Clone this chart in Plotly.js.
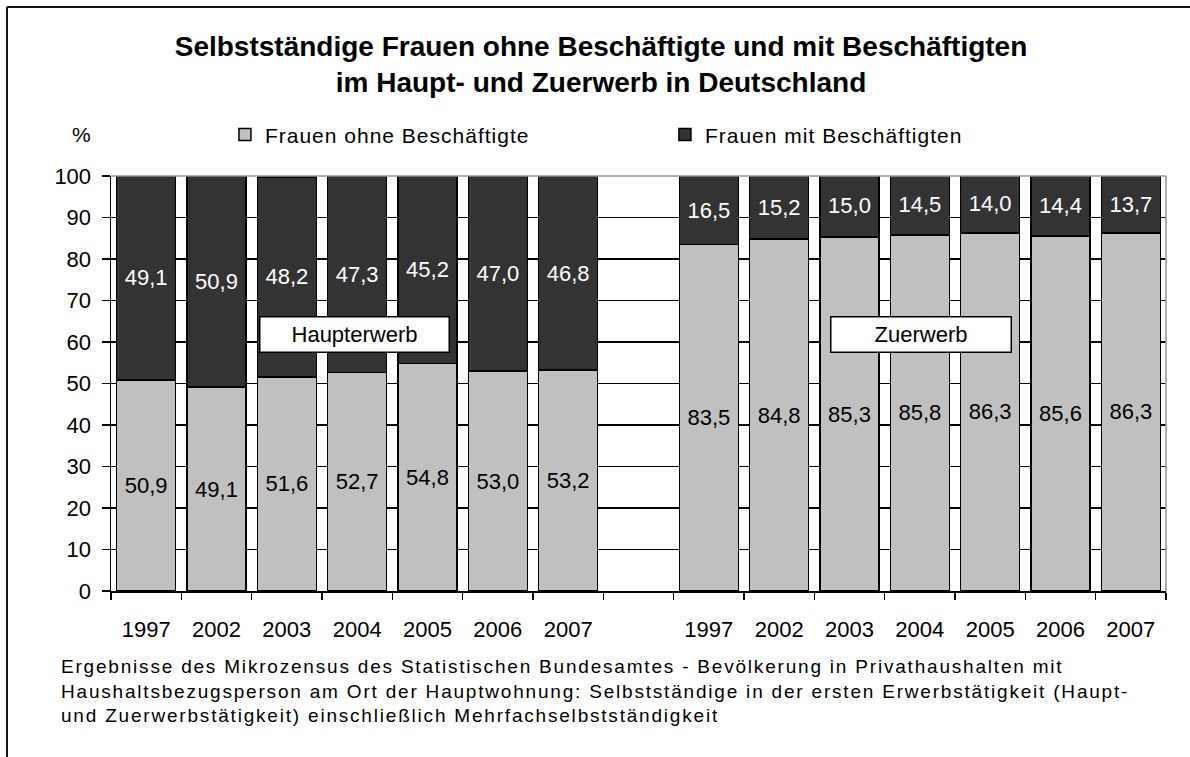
<!DOCTYPE html>
<html>
<head>
<meta charset="utf-8">
<script src="https://cdn.plot.ly/plotly-3.0.1.min.js"></script>
<style>
  html, body { margin: 0; padding: 0; background: #fff; }
  #chart { width: 1190px; height: 757px; }
</style>
</head>
<body>
<div id="chart"></div>
<script>
// ---- data ----
var yearsHaupt = ['1997', '2002', '2003', '2004', '2005', '2006', '2007'];
var yearsZu    = ['1997', '2002', '2003', '2004', '2005', '2006', '2007'];
var hauptOhne = [50.9, 49.1, 51.6, 52.7, 54.8, 53.0, 53.2];
var hauptMit  = [49.1, 50.9, 48.2, 47.3, 45.2, 47.0, 46.8];
var zuOhne    = [83.5, 84.8, 85.3, 85.8, 86.3, 85.6, 86.3];
var zuMit     = [16.5, 15.2, 15.0, 14.5, 14.0, 14.4, 13.7];
var seriesNames = ['Frauen ohne Beschäftigte', 'Frauen mit Beschäftigten'];
var groupLabels = ['Haupterwerb', 'Zuerwerb'];
var footnoteLines = [
  'Ergebnisse des Mikrozensus des Statistischen Bundesamtes - Bevölkerung in Privathaushalten mit',
  'Haushaltsbezugsperson am Ort der Hauptwohnung: Selbstständige in der ersten Erwerbstätigkeit (Haupt-',
  'und Zuerwerbstätigkeit) einschließlich Mehrfachselbstständigkeit'
];

// category slots: group 1, one empty slot, group 2
var posHaupt = yearsHaupt.map(function (_, i) { return i; });
var posZu = yearsZu.map(function (_, i) { return i + yearsHaupt.length + 1; });
var allPos = posHaupt.concat(posZu);
var allLabels = yearsHaupt.concat(yearsZu);
var nSlots = yearsHaupt.length + 1 + yearsZu.length;

var FONT = 'Liberation Sans, Arial, Helvetica, sans-serif';
function spaced(t, px) { return '<span style="letter-spacing:' + px + 'px">' + t + '</span>'; }

var traces = [
  {
    type: 'bar', name: spaced(seriesNames[0], 1),
    x: allPos, y: hauptOhne.concat(zuOhne),
    marker: { color: '#C0C0C0', line: { color: '#000', width: 1.5 } },
    texttemplate: '%{y:.1f}', textposition: 'inside', insidetextanchor: 'middle',
    constraintext: 'none',
    insidetextfont: { family: FONT, size: 22, color: '#000' },
    hoverinfo: 'skip'
  },
  {
    type: 'bar', name: spaced(seriesNames[1], 1),
    x: allPos, y: hauptMit.concat(zuMit),
    marker: { color: '#333333', line: { color: '#000', width: 1.5 } },
    texttemplate: '%{y:.1f}', textposition: 'inside', insidetextanchor: 'middle',
    constraintext: 'none',
    insidetextfont: { family: FONT, size: 22, color: '#fff' },
    hoverinfo: 'skip'
  }
];

var footText = footnoteLines.map(function (l) { return spaced(l, 1.8); }).join('<br>');

var layout = {
  width: 1190, height: 757,
  paper_bgcolor: '#fff', plot_bgcolor: '#fff',
  separators: ',.',
  font: { family: FONT, size: 20, color: '#000' },
  margin: { l: 111, r: 24, t: 176, b: 166, pad: 0 },
  barmode: 'stack',
  bargap: 0.16,
  showlegend: true,
  title: {
    text: 'Selbstständige Frauen ohne Beschäftigte und mit Beschäftigten<br>im Haupt- und Zuerwerb in Deutschland',
    font: { family: FONT, size: 28, weight: 'bold', color: '#000' },
    x: 601 / 1190, xanchor: 'center', xref: 'container',
    y: 1 - 56 / 757, yanchor: 'top', yref: 'container'
  },
  legend: {
    orientation: 'h', x: 0.108, xanchor: 'left', y: 1.099, yanchor: 'middle',
    font: { family: FONT, size: 21, color: '#000' },
    entrywidth: 395, entrywidthmode: 'pixels',
    bgcolor: 'rgba(0,0,0,0)', traceorder: 'normal'
  },
  xaxis: {
    range: [-0.5, nSlots - 0.5],
    tickmode: 'array', tickvals: allPos, ticktext: allLabels,
    ticks: 'outside', ticklen: 18, tickcolor: 'rgba(0,0,0,0)',
    tickfont: { family: FONT, size: 22, color: '#000' },
    showline: true, linecolor: '#000', linewidth: 1.5,
    showgrid: false, zeroline: false, fixedrange: true,
    minor: { tick0: -0.5, dtick: 1, ticks: 'outside', ticklen: 7, tickcolor: '#000', tickwidth: 1.5, showgrid: false }
  },
  yaxis: {
    range: [0, 100], tickmode: 'linear', tick0: 0, dtick: 10,
    ticks: 'outside', ticklen: 8, tickwidth: 1.5, tickcolor: '#000',
    ticklabelstandoff: 6,
    tickfont: { family: FONT, size: 22, color: '#000' },
    showline: true, linecolor: '#000', linewidth: 1.5,
    showgrid: true, gridcolor: '#000', gridwidth: 1.3,
    zeroline: false, fixedrange: true
  },
  shapes: [
    // gray plot frame top and right
    { type: 'line', xref: 'paper', yref: 'paper', x0: 0, x1: 1, y0: 1, y1: 1, line: { color: '#999', width: 1.6 }, layer: 'above' },
    { type: 'line', xref: 'paper', yref: 'paper', x0: 1, x1: 1, y0: 0, y1: 1, line: { color: '#999', width: 1.6 }, layer: 'above' },
    // outer chart border (top and left visible)
    { type: 'line', xref: 'paper', yref: 'paper', x0: -0.0986, x1: 1.05, y0: 1.407, y1: 1.407, line: { color: '#111', width: 2 } },
    { type: 'line', xref: 'paper', yref: 'paper', x0: -0.0986, x1: -0.0986, y0: 1.407, y1: -0.45, line: { color: '#111', width: 2 } }
  ],
  annotations: [
    {
      text: '%', xref: 'paper', yref: 'paper', x: -0.0278, y: 1.099,
      xanchor: 'center', yanchor: 'middle', showarrow: false,
      font: { family: FONT, size: 21, color: '#000' }
    },
    {
      text: groupLabels[0], xref: 'x', yref: 'y', x: 2.96, y: 61.7,
      xanchor: 'center', yanchor: 'middle', showarrow: false,
      bgcolor: '#fff', bordercolor: '#000', borderwidth: 1.5, borderpad: 0,
      width: 188, height: 34,
      font: { family: FONT, size: 22, color: '#000' }
    },
    {
      text: groupLabels[1], xref: 'x', yref: 'y', x: 11.02, y: 61.7,
      xanchor: 'center', yanchor: 'middle', showarrow: false,
      bgcolor: '#fff', bordercolor: '#000', borderwidth: 1.5, borderpad: 0,
      width: 179, height: 34,
      font: { family: FONT, size: 22, color: '#000' }
    },
    {
      text: footText, xref: 'paper', yref: 'paper', x: -0.0493, y: -0.152,
      xanchor: 'left', yanchor: 'top', align: 'left', showarrow: false,
      font: { family: FONT, size: 19, color: '#000' }
    }
  ]
};

Plotly.newPlot('chart', traces, layout, { displayModeBar: false, staticPlot: true });
</script>
</body>
</html>
